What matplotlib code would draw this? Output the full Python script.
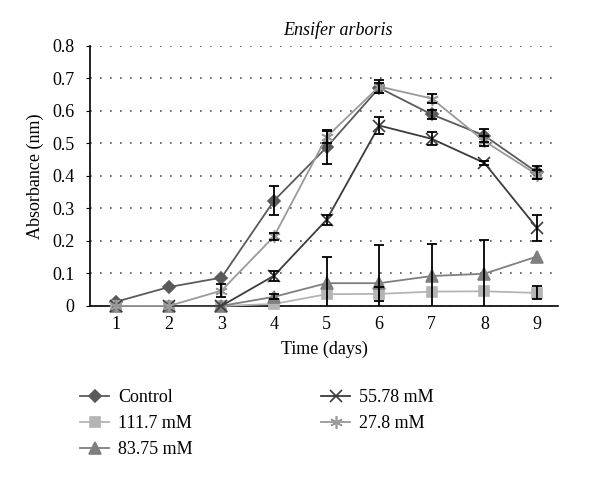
import numpy as np
import matplotlib.pyplot as plt

plt.rcParams['font.family'] = ['Liberation Serif', 'DejaVu Serif']

days = [1, 2, 3, 4, 5, 6, 7, 8, 9]

# absorbance per treatment
control = [0.013, 0.058, 0.087, 0.324, 0.488, 0.671, 0.589, 0.524, 0.411]
control_err = [0, 0, 0, 0.044, 0.05, 0.015, 0.015, 0.02, 0.02]
mm111 = [0, 0, 0, 0.006, 0.036, 0.037, 0.044, 0.045, 0.04]
mm111_err = [0, 0, 0, 0, 0, 0.022, 0, 0, 0.02]
mm83 = [0, 0, 0, 0.028, 0.07, 0.07, 0.092, 0.099, 0.152]
mm83_err = [0, 0, 0, 0.008, 0.08, 0.118, 0.099, 0.105, 0]
mm55 = [0, 0, 0, 0.093, 0.265, 0.555, 0.514, 0.44, 0.24]
mm55_err = [0, 0, 0, 0.015, 0.015, 0.025, 0.02, 0.007, 0.04]
mm27 = [0, 0, 0.047, 0.214, 0.52, 0.675, 0.638, 0.507, 0.404]
mm27_err = [0, 0, 0.02, 0.01, 0.02, 0.02, 0.015, 0.015, 0.015]

series = [
    ("Control", control, control_err, "D", "#5a5a5a", 6),
    ("111.7 mM", mm111, mm111_err, "s", "#b4b4b4", 7.5),
    ("83.75 mM", mm83, mm83_err, "^", "#7f7f7f", 8),
    ("55.78 mM", mm55, mm55_err, "x", "#3c3c3c", 9),
    ("27.8 mM", mm27, mm27_err, (6, 2, 0), "#9a9a9a", 9),
]

fig = plt.figure(figsize=(6, 4.78), dpi=100)
ax = fig.add_axes([0.15, 0.36, 0.78, 0.544])

for name, vals, err, mk, col, ms in series:
    ax.plot(days, vals, color=col, marker=mk, markersize=ms, lw=1.3,
            markeredgewidth=1.2, label=name, clip_on=False, zorder=3)
for name, vals, err, mk, col, ms in series:
    e = np.array(err)
    idx = e > 0
    ax.errorbar(np.array(days)[idx], np.array(vals)[idx], yerr=e[idx],
                fmt='none', ecolor='black', elinewidth=1.3, capsize=3.5,
                capthick=1.3, zorder=4)

ax.set_xlim(0.5, 9.4)
ax.set_ylim(0, 0.8)
ax.set_yticks(np.arange(0, 0.81, 0.1))
ax.set_yticklabels(["0", "0.1", "0.2", "0.3", "0.4", "0.5", "0.6", "0.7", "0.8"])
ax.set_xticks(days)
ax.yaxis.grid(True, linestyle=(0, (1, 5)), color='#555555', lw=1.2)
ax.set_axisbelow(True)
for s in ['top', 'right']:
    ax.spines[s].set_visible(False)
ax.spines['left'].set_linewidth(1.2)
ax.spines['bottom'].set_linewidth(1.2)
ax.tick_params(axis='x', length=0, labelsize=13, pad=7)
ax.tick_params(axis='y', length=3, labelsize=13, pad=8)

ax.set_title("Ensifer arboris", fontsize=13, style='italic', x=0.53, pad=8)
ax.set_ylabel("Absorbance (nm)", fontsize=13, labelpad=6)
ax.set_xlabel("Time (days)", fontsize=13, labelpad=6)

handles, labels = ax.get_legend_handles_labels()
fig.legend(handles, labels, ncol=2, frameon=False, fontsize=13,
           loc='upper left', bbox_to_anchor=(0.107, 0.22),
           columnspacing=7.1, handlelength=1.6, labelspacing=0.5,
           handletextpad=0.5)

fig.savefig("out.png", dpi=100)
